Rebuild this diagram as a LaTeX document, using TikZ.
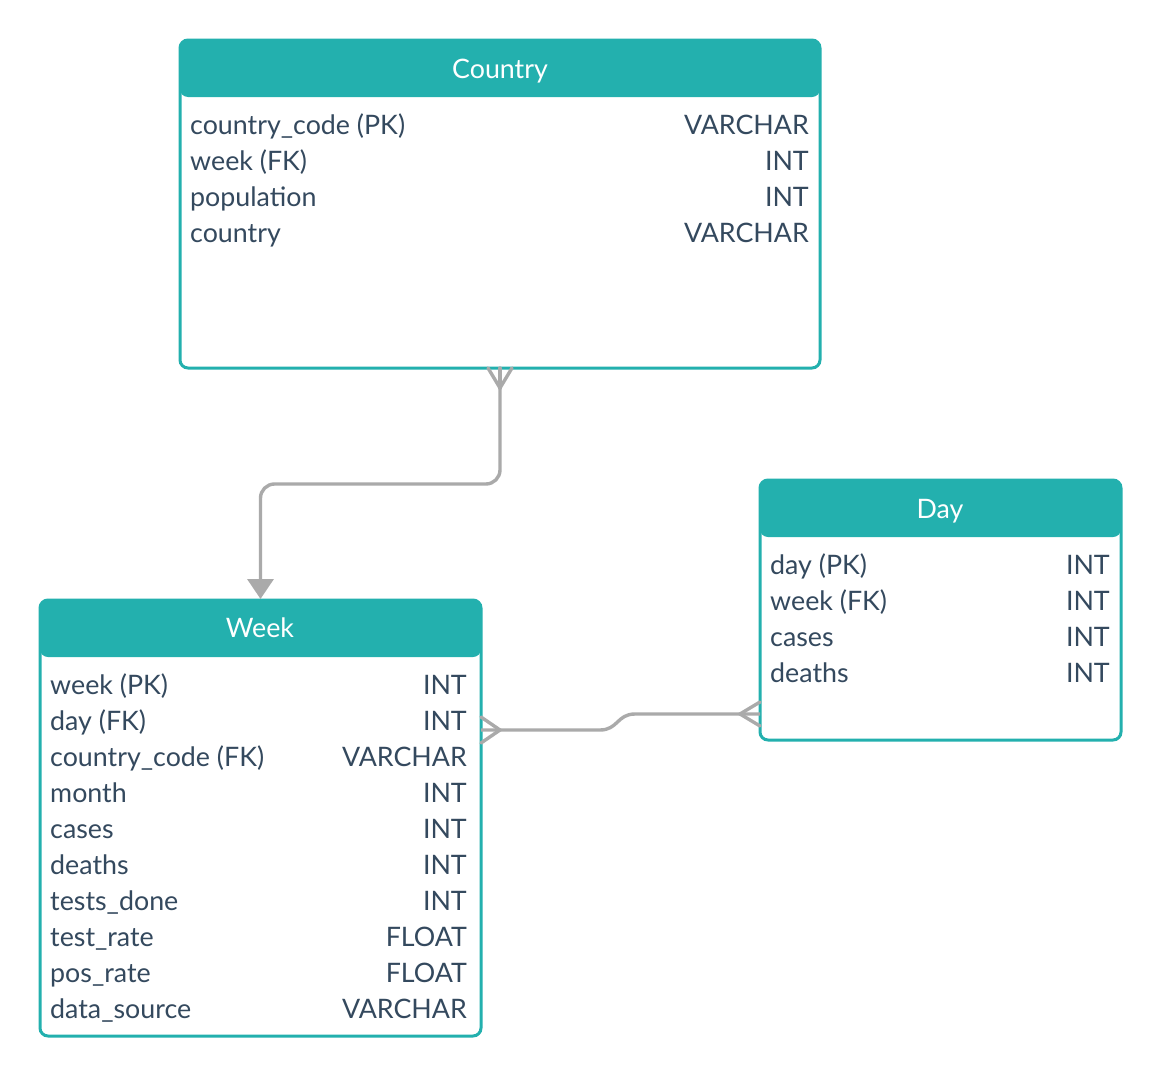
\documentclass[tikz,border=0pt]{standalone}
\usepackage{fontspec}
\setmainfont{Lato}
\usetikzlibrary{arrows.meta,calc}
\definecolor{hdr}{RGB}{35,176,174}
\definecolor{ink}{RGB}{52,73,94}
\definecolor{link}{RGB}{170,170,170}
\begin{document}
\begin{tikzpicture}[x=1pt,y=-1pt,
  tablebox/.style={draw=hdr, line width=3pt, fill=white, rounded corners=8pt,
    anchor=north west, inner sep=0pt, outer sep=0pt,
    path picture={\fill[hdr] (path picture bounding box.north west) rectangle
      ([yshift=-57pt]path picture bounding box.north east);}},
  txt/.style={font=\fontsize{26.8}{32}\selectfont, inner sep=0pt},
  title/.style={txt, text=white, anchor=base},
  fld/.style={txt, text=ink, anchor=base west},
  typ/.style={txt, text=ink, anchor=base east},
  conn/.style={draw=link, line width=3.4pt},
  crow/.style={draw=link, line width=3.4pt, line cap=round}]
\useasboundingbox (0,0) rectangle (1160,1076);
\fill[white] (0,0) rectangle (1160,1076);

% Country table
\node[tablebox, minimum width=640pt, minimum height=328pt] (country) at (180,40) {};
\node[title] (countryT) at (500,78) {Country};
\node[fld] (c1) at (190,134) {country\_code (PK)};
\node[typ] (c1t) at (809,134) {VARCHAR};
\node[fld] (c2) at (190,170) {week (FK)};
\node[typ] (c2t) at (809,170) {INT};
\node[fld] (c3) at (190,206) {population};
\node[typ] (c3t) at (809,206) {INT};
\node[fld] (c4) at (190,242) {country};
\node[typ] (c4t) at (809,242) {VARCHAR};

% Week table
\node[tablebox, minimum width=441pt, minimum height=436pt] (week) at (40,600) {};
\node[title] (weekT) at (260,637) {Week};
\foreach \f/\t [count=\i] in {week (PK)/INT, day (FK)/INT, country\_code (FK)/VARCHAR,
    month/INT, cases/INT, deaths/INT, tests\_done/INT, test\_rate/FLOAT,
    pos\_rate/FLOAT, data\_source/VARCHAR}{
  \node[fld] (w\i) at (50,{694+36*(\i-1)}) {\f};
  \node[typ] (w\i t) at (467,{694+36*(\i-1)}) {\t};
}

% Day table
\node[tablebox, minimum width=361pt, minimum height=260pt] (day) at (760,480) {};
\node[title] (dayT) at (940,518) {Day};
\foreach \f/\t [count=\i] in {day (PK)/INT, week (FK)/INT, cases/INT, deaths/INT}{
  \node[fld] (d\i) at (770,{574+36*(\i-1)}) {\f};
  \node[typ] (d\i t) at (1110,{574+36*(\i-1)}) {\t};
}

% Country -> Week
\coordinate (mid) at ($(country.south)!0.5!(week.north)$);
\draw[conn, rounded corners=14pt, -{Triangle[width=26pt,length=20pt]}]
  (country.south) -- (country.south |- mid) -- (week.north |- mid) -- ([yshift=1pt]week.north);
\coordinate (cf) at ([yshift=-20pt]country.south);
\draw[crow] ([xshift=-12pt]country.south) -- (cf) -- ([xshift=12pt]country.south);
\draw[crow] (country.south) -- (cf);

% Week <-> Day
\coordinate (wd) at ([yshift=-130pt]week.north east);
\coordinate (dw) at ([yshift=-234pt]day.north west);
\coordinate (b1) at ($(wd)+(119,0)$);
\coordinate (b2) at ($(dw)+(-125,0)$);
\draw[conn] (wd) -- (b1) .. controls ($(b1)+(18,0)$) and ($(b2)+(-18,0)$) .. (b2) -- (dw);
\coordinate (wf) at ($(wd)+(19,0)$);
\draw[crow] ([yshift=13pt]wd) -- (wf) -- ([yshift=-13pt]wd);
\coordinate (df) at ($(dw)+(-20,0)$);
\draw[crow] ([yshift=12pt]dw) -- (df) -- ([yshift=-12pt]dw);
\end{tikzpicture}
\end{document}
